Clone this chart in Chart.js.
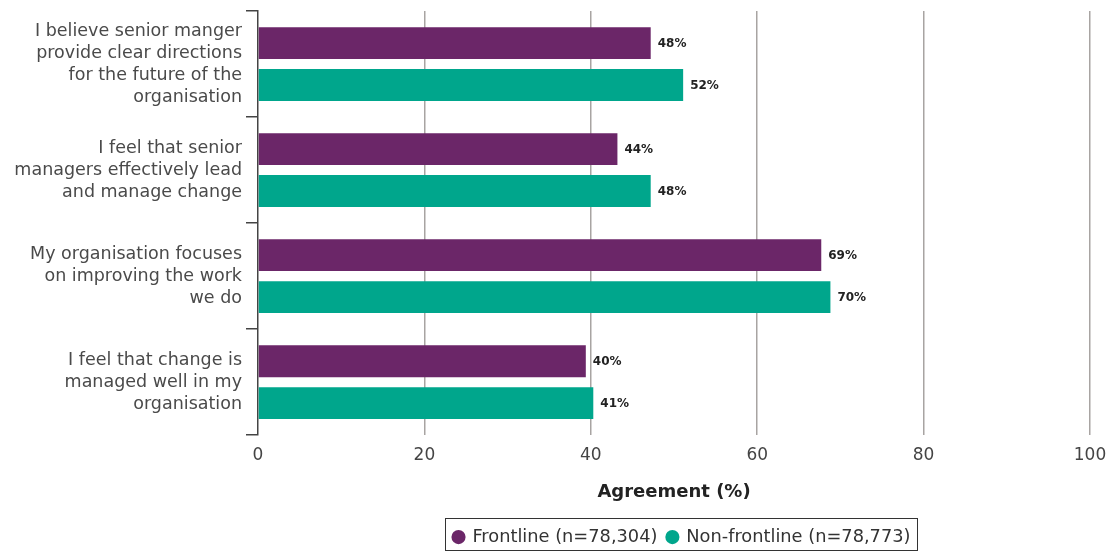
<!DOCTYPE html>
<html>
<head>
<meta charset="utf-8">
<script src="https://cdn.jsdelivr.net/npm/chart.js@4"></script>
<style>
  html, body { margin: 0; padding: 0; background: #fff; }
  #wrap { width: 1119px; height: 551px; }
</style>
</head>
<body>
<div id="wrap"><canvas id="barChart"></canvas></div>
<script>
// Data
const categories = [
  ["I believe senior manger", "provide clear directions", "for the future of the", "organisation"],
  ["I feel that senior", "managers effectively lead", "and manage change"],
  ["My organisation focuses", "on improving the work", "we do"],
  ["I feel that change is", "managed well in my", "organisation"],
];
const frontline = [47.2, 43.2, 67.7, 39.4];
const nonFrontline = [51.1, 47.2, 68.8, 40.3];
const frontlineLabels = ["48%", "44%", "69%", "40%"];
const nonFrontlineLabels = ["52%", "48%", "70%", "41%"];
const xTicks = [0, 20, 40, 60, 80, 100];

const purple = "#6b2668";
const teal = "#00a68c";
const fontFamily = "'DejaVu Sans', sans-serif";

// value labels at the end of each bar
const valueLabels = {
  id: "valueLabels",
  afterDatasetsDraw(chart) {
    const ctx = chart.ctx;
    const texts = [frontlineLabels, nonFrontlineLabels];
    ctx.save();
    ctx.font = "bold 12px " + fontFamily;
    ctx.fillStyle = "#222";
    ctx.textBaseline = "middle";
    ctx.textAlign = "left";
    chart.data.datasets.forEach((ds, i) => {
      chart.getDatasetMeta(i).data.forEach((bar, j) => {
        ctx.fillText(texts[i][j], bar.x + 7, bar.y + 1);
      });
    });
    ctx.restore();
  },
};

// wrapped category labels on the left
const categoryLabels = {
  id: "categoryLabels",
  afterDraw(chart) {
    const yScale = chart.scales.y;
    const ctx = chart.ctx;
    const lineH = 22;
    ctx.save();
    ctx.font = "17.5px " + fontFamily;
    ctx.fillStyle = "#4a4a4a";
    ctx.textAlign = "right";
    ctx.textBaseline = "middle";
    categories.forEach((lines, i) => {
      const cy = yScale.getPixelForValue(i);
      const start = cy - ((lines.length - 1) * lineH) / 2;
      lines.forEach((line, k) => {
        ctx.fillText(line, 242, start + k * lineH);
      });
    });
    ctx.restore();
  },
};

// centre the legend under the plot area and box it
const legendBorder = {
  id: "legendBorder",
  afterLayout(chart) {
    const legend = chart.legend;
    legend.left = chart.chartArea.left + 8;
    legend.right = chart.chartArea.right + 8;
    legend.width = legend.right - legend.left;
  },
  afterDraw(chart) {
    const legend = chart.legend;
    if (!legend.lineWidths || !legend.lineWidths.length) return;
    const pad = legend.options.labels.padding;
    const w = legend.lineWidths[0];
    const x0 = (legend.left + pad + legend.right - w) / 2;
    const left = x0 - 9;
    const right = x0 + w - pad + 6;
    const top = legend.top;
    const bottom = chart.height - 1;
    const ctx = chart.ctx;
    ctx.save();
    ctx.strokeStyle = "#333";
    ctx.lineWidth = 1;
    ctx.strokeRect(Math.round(left) + 0.5, Math.round(top) + 0.5, Math.round(right - left), Math.round(bottom - top));
    ctx.restore();
  },
};

const ctx = document.getElementById("barChart").getContext("2d");
new Chart(ctx, {
  type: "bar",
  data: {
    labels: categories.map((c) => c.join(" ")),
    datasets: [
      {
        label: "Frontline (n=78,304)",
        data: frontline,
        backgroundColor: purple,
        categoryPercentage: 0.79,
        barPercentage: 0.76,
      },
      {
        label: "Non-frontline (n=78,773)",
        data: nonFrontline,
        backgroundColor: teal,
        categoryPercentage: 0.79,
        barPercentage: 0.76,
      },
    ],
  },
  options: {
    indexAxis: "y",
    responsive: true,
    maintainAspectRatio: false,
    animation: false,
    layout: { padding: { top: 11, right: 29, left: 0, bottom: -5 } },
    plugins: {
      legend: {
        position: "bottom",
        labels: {
          usePointStyle: true,
          pointStyle: "circle",
          boxWidth: 10,
          boxHeight: 10,
          padding: 10,
          color: "#333",
          font: { family: fontFamily, size: 17.8 },
        },
      },
      tooltip: { enabled: false },
    },
    scales: {
      x: {
        min: 0,
        max: 100,
        afterBuildTicks: (axis) => {
          axis.ticks = xTicks.map((v) => ({ value: v }));
        },
        border: { display: false },
        grid: {
          color: (c) => (c.tick && c.tick.value === 0 ? "rgba(0,0,0,0)" : "#a8a4a2"),
          lineWidth: 1.5,
          drawTicks: false,
        },
        ticks: {
          padding: 10,
          color: "#444",
          font: { family: fontFamily, size: 17 },
        },
        title: {
          display: true,
          text: "Agreement (%)",
          color: "#222",
          font: { family: fontFamily, size: 18, weight: "bold" },
          padding: { top: 6, bottom: 15 },
        },
      },
      y: {
        afterFit: (scale) => {
          scale.width = 258;
        },
        border: { display: true, color: "#444", width: 1.5 },
        grid: {
          offset: true,
          drawOnChartArea: false,
          tickLength: 12,
          color: "#444",
          lineWidth: 1.5,
        },
        ticks: { display: false },
      },
    },
  },
  plugins: [valueLabels, categoryLabels, legendBorder],
});
</script>
</body>
</html>
